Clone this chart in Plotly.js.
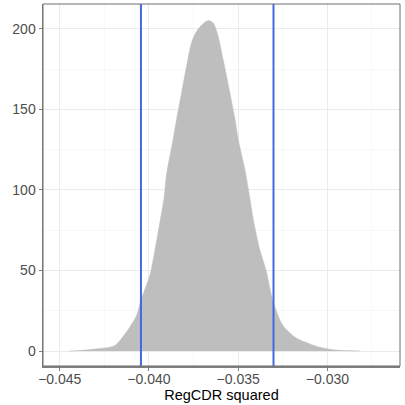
<!DOCTYPE html>
<html>
<head>
<meta charset="utf-8">
<script src="https://cdn.plot.ly/plotly-3.0.1.min.js"></script>
<style>html,body{margin:0;padding:0;background:#fff;}#chart{width:405px;height:405px;}</style>
</head>
<body>
<div id="chart"></div>
<script>
// Density estimate of RegCDR squared
const densityX = [-0.0445, -0.04415, -0.04359, -0.04275, -0.04219, -0.04191, -0.04163, -0.04107, -0.04069, -0.04045,
  -0.03994, -0.03966, -0.03938, -0.03916, -0.03901, -0.03867, -0.03845, -0.03817, -0.03789, -0.03761,
  -0.03733, -0.03686, -0.03664, -0.03640, -0.03617, -0.03584, -0.03546, -0.03518, -0.03500, -0.03462,
  -0.03434, -0.03415, -0.03378, -0.03344, -0.03303, -0.03247, -0.03172, -0.03098, -0.03042, -0.02969,
  -0.02892, -0.02817];
const densityY = [0, 0.2, 0.6, 1.6, 2.4, 3.4, 6.5, 14.9, 22.2, 31.5,
  47.5, 63, 80.5, 94.5, 110, 130, 144, 160.5, 177, 191.5,
  198.5, 204.2, 205.2, 203.6, 197.4, 180.8, 160, 144, 131.5, 112.4,
  94.5, 81.3, 62.6, 50.2, 30.3, 15.5, 7.9, 4.4, 2.3, 0.8,
  0.25, 0];
// Interval limits shown as vertical lines
const intervalLimits = [-0.04045, -0.03302];
const xTickVals = [-0.045, -0.040, -0.035, -0.030];
const xTickText = ["\u22120.045", "\u22120.040", "\u22120.035", "\u22120.030"];
const yTickVals = [0, 50, 100, 150, 200];
const xTitle = "RegCDR squared";

const traces = [{
  x: densityX, y: densityY, type: 'scatter', mode: 'lines',
  fill: 'tozeroy', fillcolor: '#BEBEBE',
  line: {color: '#BEBEBE', width: 0.5, shape: 'spline', smoothing: 0.8},
  hoverinfo: 'skip', showlegend: false
}];

const shapes = intervalLimits.map(v => ({
  type: 'line', xref: 'x', yref: 'paper', x0: v, x1: v, y0: 0, y1: 1,
  line: {color: '#4169E1', width: 2}
}));
shapes.push({type: 'rect', xref: 'paper', yref: 'paper', x0: 0, x1: 1, y0: 0, y1: 1,
  line: {color: '#6E6E6E', width: 1}, fillcolor: 'rgba(0,0,0,0)'});

const layout = {
  width: 405, height: 405,
  margin: {l: 43, r: 5, t: 4, b: 39, pad: 0},
  paper_bgcolor: '#fff', plot_bgcolor: '#fff',
  font: {family: 'Liberation Sans, Arial, sans-serif', size: 14, color: '#4D4D4D'},
  showlegend: false,
  xaxis: {
    range: [-0.04594, -0.02593], tickvals: xTickVals, ticktext: xTickText,
    showgrid: true, gridcolor: '#EBEBEB', gridwidth: 1,
    minor: {showgrid: true, gridcolor: '#F4F4F4', gridwidth: 0.6, dtick: 0.0025, tick0: -0.0475, ticks: ''},
    zeroline: false, showline: true, linecolor: '#7F7F7F', linewidth: 1.5,
    ticks: 'outside', ticklen: 3, tickcolor: '#7F7F7F', tickwidth: 1,
    ticklabelstandoff: -3,
    tickfont: {size: 14, color: '#4D4D4D'},
    title: {text: xTitle, font: {size: 14.5, color: '#000'}, standoff: 0}
  },
  yaxis: {
    range: [-9.3, 215.4], tickvals: yTickVals,
    showgrid: true, gridcolor: '#EBEBEB', gridwidth: 1,
    minor: {showgrid: true, gridcolor: '#F4F4F4', gridwidth: 0.6, dtick: 25, tick0: 25, ticks: ''},
    zeroline: false, showline: true, linecolor: '#7F7F7F', linewidth: 1.5,
    ticks: 'outside', ticklen: 3, tickcolor: '#7F7F7F', tickwidth: 1,
    tickfont: {size: 14, color: '#4D4D4D'}
  },
  shapes: shapes
};

Plotly.newPlot('chart', traces, layout, {displayModeBar: false, staticPlot: true});
</script>
</body>
</html>
